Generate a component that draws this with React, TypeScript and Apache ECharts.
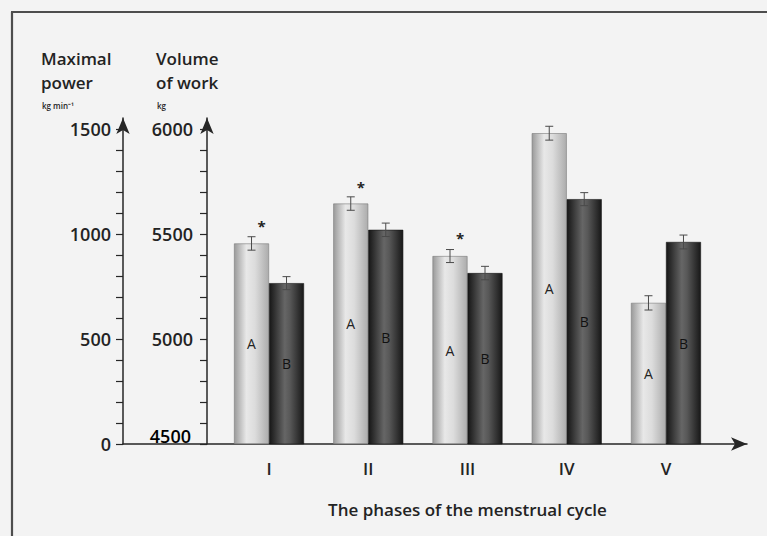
import React, { useEffect, useRef } from "react";
import * as echarts from "echarts";

const categories = ["I", "II", "III", "IV", "V"];
// A: maximal power (kg min^-1)
const powerA = [955, 1145, 895, 1480, 672];
const errA = [32, 32, 31, 33, 34];
// B: volume of work (kg)
const volumeB = [5266, 5520, 5314, 5666, 5462];
const errB = [31, 32, 32, 31, 33];
const significant = [true, true, true, false, false];
const starAbove = [100, 100, 105, 0, 0];
const powerTicks = [0, 500, 1000, 1500];
const volumeTicks = [4500, 5000, 5500, 6000];

const FONT = "Open Sans";
const INK = "#232323";

export default function App() {
  const ref = useRef<HTMLDivElement>(null);
  useEffect(() => {
    if (!ref.current) return;
    const chart = echarts.init(ref.current, undefined, { renderer: "svg" });

    const gridL = 219.4;
    const gridR = 767 - 715.6;
    const half = 17.5;

    const errRender = (off: number, errs: number[], withStar: boolean) =>
      (params: any, api: any) => {
        const x = api.value(0);
        const v = api.value(1);
        const i = params.dataIndex;
        const e = errs[i];
        const t = api.coord([x, v + e]);
        const b = api.coord([x, v - e]);
        const cx = t[0] + off;
        const st = { stroke: "#4a4a4a", lineWidth: 1 };
        const children: any[] = [
          { type: "line", shape: { x1: cx, y1: t[1], x2: cx, y2: b[1] }, style: st },
          { type: "line", shape: { x1: cx - 4, y1: t[1], x2: cx + 4, y2: t[1] }, style: st },
          { type: "line", shape: { x1: cx - 4, y1: b[1], x2: cx + 4, y2: b[1] }, style: st },
        ];
        if (withStar && significant[i]) {
          const s = api.coord([x, v + starAbove[i]]);
          children.push({
            type: "text",
            x: cx + 10,
            y: s[1] + 4,
            style: {
              text: "*",
              fontSize: 15,
              fontWeight: "bold",
              fontFamily: FONT,
              fill: INK,
              align: "center",
              verticalAlign: "middle",
            },
          });
        }
        return { type: "group", children };
      };

    const arrowLine = { show: true, symbol: ["none", "arrow"], symbolSize: [10, 16], lineStyle: { color: "#262626", width: 1.5 } };
    const tickFont = { color: INK, fontSize: 18, fontWeight: 600, fontFamily: FONT };

    chart.setOption({
      animation: false,
      backgroundColor: "#f3f3f3",
      grid: [
        { left: gridL, right: gridR, top: 129, bottom: 92 },
        { left: 123, right: 20, top: 118, bottom: 92 },
        { left: 207, width: 10, top: 118, bottom: 92 },
      ],
      xAxis: [
        {
          type: "category",
          gridIndex: 0,
          data: categories,
          axisLine: { show: false },
          axisTick: { show: false },
          axisLabel: { color: INK, fontSize: 17, fontWeight: 600, fontFamily: FONT, margin: 16 },
          name: "The phases of the menstrual cycle",
          nameLocation: "middle",
          nameGap: 57,
          nameTextStyle: { color: INK, fontSize: 17, fontWeight: 600, fontFamily: FONT },
        },
        {
          type: "value",
          gridIndex: 1,
          min: 0,
          max: 1,
          axisLine: arrowLine,
          axisTick: { show: false },
          axisLabel: { show: false },
          splitLine: { show: false },
        },
        {
          type: "value",
          gridIndex: 2,
          min: 0,
          max: 1,
          show: false,
        },
      ],
      yAxis: [
        {
          type: "value",
          gridIndex: 0,
          position: "left",
          offset: gridL - 123,
          min: 0,
          max: 1500,
          interval: 100,
          axisLine: { show: false },
          axisTick: { show: true, length: 7, lineStyle: { color: "#262626", width: 1.2 } },
          axisLabel: {
            ...tickFont,
            margin: 12,
            formatter: (v: number) => (powerTicks.includes(v) ? String(v) : ""),
          },
          splitLine: { show: false },
        },
        {
          type: "value",
          gridIndex: 0,
          position: "left",
          offset: gridL - 207,
          min: 4500,
          max: 6000,
          interval: 100,
          axisLine: { show: false },
          axisTick: { show: true, length: 7, lineStyle: { color: "#262626", width: 1.2 } },
          axisLabel: {
            ...tickFont,
            margin: 14,
            formatter: (v: number) => (volumeTicks.includes(v) && v !== volumeTicks[0] ? String(v) : ""),
          },
          splitLine: { show: false },
        },
        {
          type: "value",
          gridIndex: 1,
          min: 0,
          max: 1,
          axisLine: arrowLine,
          axisTick: { show: false },
          axisLabel: { show: false },
          splitLine: { show: false },
        },
        {
          type: "value",
          gridIndex: 2,
          position: "left",
          min: 0,
          max: 1,
          axisLine: arrowLine,
          axisTick: { show: false },
          axisLabel: { show: false },
          splitLine: { show: false },
        },
      ],
      series: [
        {
          type: "bar",
          name: "A",
          xAxisIndex: 0,
          yAxisIndex: 0,
          data: powerA,
          barWidth: 35,
          barGap: "0%",
          itemStyle: {
            color: new echarts.graphic.LinearGradient(0, 0, 1, 0, [
              { offset: 0, color: "#9a9a9a" },
              { offset: 0.35, color: "#e8e8e8" },
              { offset: 0.6, color: "#dcdcdc" },
              { offset: 1, color: "#acacac" },
            ]),
            borderColor: "#7a7a7a",
            borderWidth: 0.6,
          },
          label: { show: true, position: "inside", formatter: "A", color: INK, fontSize: 14, fontFamily: FONT },
          z: 2,
        },
        {
          type: "bar",
          name: "B",
          xAxisIndex: 0,
          yAxisIndex: 1,
          data: volumeB,
          barWidth: 35,
          barGap: "0%",
          itemStyle: {
            color: new echarts.graphic.LinearGradient(0, 0, 1, 0, [
              { offset: 0, color: "#161616" },
              { offset: 0.45, color: "#666666" },
              { offset: 0.6, color: "#585858" },
              { offset: 1, color: "#181818" },
            ]),
            borderColor: "#161616",
            borderWidth: 0.6,
          },
          label: { show: true, position: "inside", formatter: "B", color: "#111", fontSize: 14, fontFamily: FONT },
          z: 2,
        },
        {
          type: "custom",
          xAxisIndex: 0,
          yAxisIndex: 0,
          renderItem: errRender(-half, errA, true),
          data: powerA.map((v, i) => [i, v]),
          encode: { x: 0, y: 1 },
          z: 5,
        },
        {
          type: "custom",
          xAxisIndex: 0,
          yAxisIndex: 1,
          renderItem: errRender(half, errB, false),
          data: volumeB.map((v, i) => [i, v]),
          encode: { x: 0, y: 1 },
          z: 5,
        },
      ],
      graphic: [
        { type: "line", shape: { x1: 12, y1: 12, x2: 12, y2: 536 }, style: { stroke: "#4d4d4d", lineWidth: 2.2 } },
        { type: "line", shape: { x1: 11, y1: 12, x2: 767, y2: 12 }, style: { stroke: "#4d4d4d", lineWidth: 2.2 } },
        { type: "text", x: 41, y: 58, style: { text: "Maximal", fontSize: 17, fontWeight: 600, fontFamily: FONT, fill: INK, verticalAlign: "middle" } },
        { type: "text", x: 41, y: 82, style: { text: "power", fontSize: 17, fontWeight: 600, fontFamily: FONT, fill: INK, verticalAlign: "middle" } },
        { type: "text", x: 42, y: 105, style: { text: "kg min⁻¹", fontSize: 8, fontWeight: 600, fontFamily: FONT, fill: INK, verticalAlign: "middle" } },
        { type: "text", x: 156, y: 58, style: { text: "Volume", fontSize: 17, fontWeight: 600, fontFamily: FONT, fill: INK, verticalAlign: "middle" } },
        { type: "text", x: 156, y: 82, style: { text: "of work", fontSize: 17, fontWeight: 600, fontFamily: FONT, fill: INK, verticalAlign: "middle" } },
        { type: "text", x: 157, y: 105, style: { text: "kg", fontSize: 8, fontWeight: 600, fontFamily: FONT, fill: INK, verticalAlign: "middle" } },
        { type: "text", x: 191, y: 436, style: { text: String(volumeTicks[0]), ...tickFont, align: "right", verticalAlign: "middle" } },
      ],
    });
    return () => chart.dispose();
  }, []);
  return (
    <div
      ref={ref}
      style={{ position: "fixed", left: 0, top: 0, width: 767, height: 536 }}
    />
  );
}
